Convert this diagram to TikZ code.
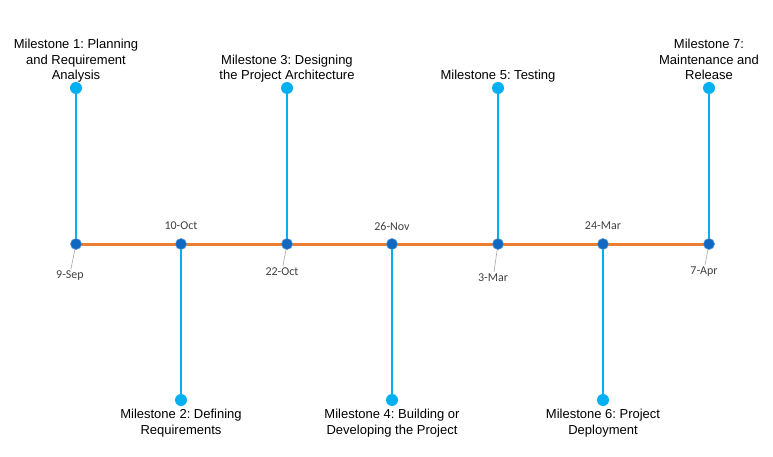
\documentclass[tikz,border=0pt]{standalone}
\usepackage{fontspec}
\setmainfont{Liberation Sans}
\newfontfamily\datefont{Carlito}
\usepackage{tikz}
\usetikzlibrary{calc,shapes,backgrounds}
\definecolor{stemblue}{RGB}{0,176,240}
\definecolor{axisorange}{RGB}{237,125,49}
\definecolor{markblue}{RGB}{16,104,192}
\definecolor{leadgray}{RGB}{166,166,166}
\definecolor{datetext}{RGB}{64,64,64}
\tikzset{
  mark dot/.style={circle,fill=markblue,draw=markblue!70!white,line width=0.6pt,inner sep=0pt,minimum size=11pt},
  stem dot/.style={circle,fill=stemblue,inner sep=0pt,minimum size=12pt},
  top label/.style={anchor=south,align=center,inner sep=0pt,text depth=3pt,font=\fontsize{13}{15.5}\selectfont},
  bottom label/.style={anchor=north,align=center,inner sep=0pt,font=\fontsize{13}{15.5}\selectfont},
  date label/.style={inner sep=0pt,text=datetext,font=\datefont\fontsize{12}{14}\selectfont},
  stem/.style={stemblue,line width=2pt},
  leader/.style={leadgray,line width=0.6pt}
}
\frenchspacing
\begin{document}
\begin{tikzpicture}[x=1pt,y=-1pt]
  \useasboundingbox (0,0) rectangle (773,457);
  % markers on the axis
  \node[mark dot] (m1) at (76,244) {};
  \node[mark dot] (m2) at (181,244) {};
  \node[mark dot] (m3) at (287,244) {};
  \node[mark dot] (m4) at (392,244) {};
  \node[mark dot] (m5) at (498,244) {};
  \node[mark dot] (m6) at (603,244) {};
  \node[mark dot] (m7) at (709,244) {};
  % end dots of the stems
  \node[stem dot] (d1) at (76,88) {};
  \node[stem dot] (d2) at (181,400) {};
  \node[stem dot] (d3) at (287,88) {};
  \node[stem dot] (d4) at (392,400) {};
  \node[stem dot] (d5) at (498,88) {};
  \node[stem dot] (d6) at (603,400) {};
  \node[stem dot] (d7) at (709,88) {};
  % milestone texts
  \node[top label] (t1) at (76,83) {Milestone 1: Planning\\and Requirement\\Analysis};
  \node[bottom label] (t2) at (181,409) {Milestone 2: Defining\\Requirements};
  \node[top label] (t3) at (287,83) {Milestone 3: Designing\\the Project Architecture};
  \node[bottom label] (t4) at (392,409) {Milestone 4: Building or\\Developing the Project};
  \node[top label] (t5) at (498,83) {Milestone 5: Testing};
  \node[bottom label] (t6) at (603,409) {Milestone 6: Project\\Deployment};
  \node[top label] (t7) at (709,83) {Milestone 7:\\Maintenance and\\Release};
  % dates
  \node[date label] (s1) at (70,276) {9-Sep};
  \node[date label] (s2) at (181,226) {10-Oct};
  \node[date label] (s3) at (282,272) {22-Oct};
  \node[date label] (s4) at (392,226) {26-Nov};
  \node[date label] (s5) at (493,278) {3-Mar};
  \node[date label] (s6) at (603,226) {24-Mar};
  \node[date label] (s7) at (704,272) {7-Apr};
  \begin{scope}[on background layer]
    \draw[axisorange,line width=3pt] (m1.center) -- (m7.center);
    \draw[stem] (d1) -- (m1.center);
    \draw[stem] (d2) -- (m2.center);
    \draw[stem] (d3) -- (m3.center);
    \draw[stem] (d4) -- (m4.center);
    \draw[stem] (d5) -- (m5.center);
    \draw[stem] (d6) -- (m6.center);
    \draw[stem] (d7) -- (m7.center);
    \draw[leader] (m1.center) -- ($(s1.north)+(1,-2)$);
    \draw[leader] (m3.center) -- ($(s3.north)+(1,-2)$);
    \draw[leader] (m5.center) -- ($(s5.north)+(1,-2)$);
    \draw[leader] (m7.center) -- ($(s7.north)+(1,-2)$);
  \end{scope}
\end{tikzpicture}
\end{document}
